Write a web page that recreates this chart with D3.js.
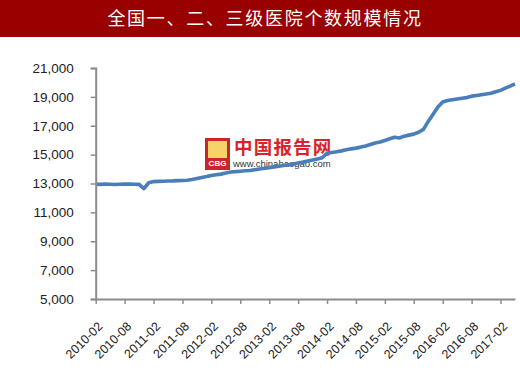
<!DOCTYPE html>
<html><head><meta charset="utf-8">
<script src="https://cdn.jsdelivr.net/npm/d3@7"></script>
<style>body{margin:0;background:#fff}svg{display:block}</style>
</head><body>
<svg id="c" width="520" height="377"></svg>
<script>
const title = "全国一、二、三级医院个数规模情况";
const yTicks = [5000, 7000, 9000, 11000, 13000, 15000, 17000, 19000, 21000];
const xTickLabels = ["2010-02","2010-08","2011-02","2011-08","2012-02","2012-08","2013-02","2013-08","2014-02","2014-08","2015-02","2015-08","2016-02","2016-08","2017-02"];
// monthly, 2010-02 .. 2017-05
const hospitals = [
 12950,12940,12960,12950,12930,12950,12960,12960,12950,12940,12650,13050,
 13130,13150,13160,13170,13180,13200,13210,13230,13280,13350,13420,13480,
 13550,13600,13650,13720,13800,13820,13850,13880,13900,13950,14000,14050,
 14100,14150,14200,14250,14300,14350,14420,14480,14550,14620,14700,14780,
 15100,15150,15200,15260,15330,15400,15450,15520,15600,15700,15800,15880,
 15980,16100,16200,16150,16280,16350,16420,16550,16750,17300,17800,18300,
 18650,18750,18800,18850,18900,18950,19050,19100,19150,19200,19250,19350,
 19450,19600,19750,19900
];
const months = hospitals.map((_, i) => {
  const m = 1 + i;
  const y = 2010 + Math.floor(m / 12), mo = m % 12 + 1;
  return y + "-" + String(mo).padStart(2, "0");
});

const svg = d3.select("#c");
svg.append("rect").attr("x",0).attr("y",0).attr("width",520).attr("height",37).attr("fill","#990000");
svg.append("text").attr("x",265).attr("y",19).attr("dy","0.35em").attr("text-anchor","middle")
  .attr("fill","#fff").attr("font-family","'Noto Sans CJK SC'").attr("font-size",18)
  .attr("letter-spacing",1.7).text(title);

const x = d3.scalePoint().domain(months).range([95.7, 515]);
const y = d3.scaleLinear().domain([5000, 21000]).range([299, 68]);

// watermark
const wm = svg.append("g");
wm.append("rect").attr("x",205).attr("y",138).attr("width",25).attr("height",32).attr("fill","#c8262a");
wm.append("rect").attr("x",208).attr("y",141).attr("width",19).attr("height",26).attr("fill","#f4d36b");
wm.append("rect").attr("x",206).attr("y",158).attr("width",23).attr("height",10).attr("fill","#c8262a");
wm.append("text").attr("x",217.5).attr("y",166).attr("text-anchor","middle").attr("fill","#fff")
  .attr("font-family","Liberation Sans").attr("font-weight","bold").attr("font-size",8).text("CBG");
wm.append("text").attr("x",234).attr("y",154).attr("fill","#d8232a")
  .attr("font-family","'Noto Sans CJK SC'").attr("font-weight","bold").attr("font-size",18.5).attr("letter-spacing",1.2).text("中国报告网");
wm.append("text").attr("x",233).attr("y",167).attr("fill","#333")
  .attr("font-family","Liberation Sans").attr("font-size",9.5).text("www.chinabaogao.com");

// line
const line = d3.line().x((d,i)=>x(months[i])).y(d=>y(d));
svg.append("path").datum(hospitals).attr("d",line).attr("fill","none")
  .attr("stroke","#4a7ebb").attr("stroke-width",3.6).attr("stroke-linejoin","round");

// y axis
const ya = svg.append("g").attr("transform","translate(95.7,0)")
  .call(d3.axisLeft(y).tickValues(yTicks).tickSize(5).tickPadding(17).tickFormat(d3.format(",")));
ya.select(".domain").attr("stroke","#8c8c8c").attr("stroke-width",2);
ya.selectAll(".tick line").attr("stroke","#8c8c8c").attr("stroke-width",1.5);
ya.selectAll("text").attr("font-family","Liberation Sans").attr("font-size",13.5).attr("fill","#222");

// x axis
const xa = svg.append("g").attr("transform","translate(0,299)")
  .call(d3.axisBottom(x).tickValues(xTickLabels).tickSize(5).tickSizeOuter(0));
xa.select(".domain").attr("stroke","#8c8c8c").attr("stroke-width",2);
xa.selectAll(".tick line").attr("stroke","#8c8c8c").attr("stroke-width",1.5);
xa.selectAll("text").attr("font-family","Liberation Sans").attr("font-size",12.5).attr("fill","#222")
  .attr("text-anchor","end").attr("dy","0.35em")
  .attr("transform","translate(4,25) rotate(-45)").attr("y",0).attr("x",0);
</script>
</body></html>
